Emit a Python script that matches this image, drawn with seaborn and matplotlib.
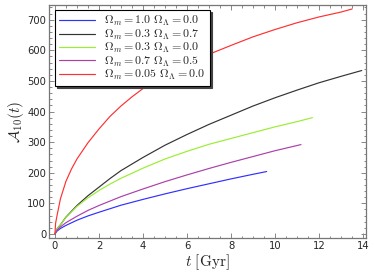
import matplotlib
matplotlib.use('Agg')
import matplotlib.pyplot as plt
import seaborn as sns
from matplotlib.ticker import MultipleLocator

# curves: t in Gyr, A_10(t)
t_blue = [0, 0.1, 0.25, 0.5, 1, 1.5, 2, 3, 4, 5, 6, 7, 8, 9, 9.62]
a_blue = [0, 10, 18, 28, 45, 59, 71, 94, 113, 131, 148, 164, 180, 195, 204]

t_black = [0, 0.1, 0.25, 0.5, 1, 1.5, 2, 2.5, 3, 4, 5, 6, 7, 8, 9, 10, 11, 12, 13, 13.94]
a_black = [0, 17, 30, 55, 93, 125, 153, 181, 207, 250, 290, 325, 358, 388, 418, 445, 470, 494, 515, 534]

t_green = [0, 0.1, 0.25, 0.5, 1, 1.5, 2, 2.5, 3, 4, 5, 6, 7, 8, 9, 10, 11, 11.7]
a_green = [0, 17, 30, 54, 90, 118, 142, 163, 182, 215, 245, 270, 293, 312, 331, 350, 367, 380]

t_purple = [0, 0.1, 0.25, 0.5, 1, 1.5, 2, 3, 4, 5, 6, 7, 8, 9, 10, 11, 11.18]
a_purple = [0, 13, 23, 37, 58, 77, 93, 122, 147, 171, 193, 214, 234, 253, 272, 289, 292]

t_red = [0, 0.03, 0.1, 0.25, 0.5, 0.75, 1, 1.5, 2, 2.5, 3, 3.5, 4, 5, 6, 7, 8, 9, 10, 11, 12, 13, 13.5]
a_red = [0, 35, 62, 115, 172, 212, 245, 298, 343, 384, 418, 448, 475, 519, 555, 587, 616, 644, 668, 690, 709, 725, 735]

labels = [r'$\Omega_m = 1.0\ \Omega_\Lambda = 0.0$',
          r'$\Omega_m = 0.3\ \Omega_\Lambda = 0.7$',
          r'$\Omega_m = 0.3\ \Omega_\Lambda = 0.0$',
          r'$\Omega_m = 0.7\ \Omega_\Lambda = 0.5$',
          r'$\Omega_m = 0.05\ \Omega_\Lambda = 0.0$']
colors = ['#3030ff', '#333333', '#99ee33', '#aa40aa', '#ff3030']

sns.set_style('ticks')
plt.rcParams['mathtext.fontset'] = 'cm'
plt.rcParams['font.family'] = ['DejaVu Sans']

fig, ax = plt.subplots(figsize=(3.74, 2.78), dpi=100)
fig.subplots_adjust(left=0.131, right=0.979, top=0.982, bottom=0.144)

series = [(t_blue, a_blue), (t_black, a_black), (t_green, a_green),
          (t_purple, a_purple), (t_red, a_red)]
for (tt, aa), lab, col in zip(series, labels, colors):
    sns.lineplot(x=tt, y=aa, ax=ax, color=col, linewidth=0.85, label=lab)

ax.set_xlim(-0.27, 14.14)
ax.set_ylim(-13, 748)
ax.xaxis.set_major_locator(MultipleLocator(2))
ax.xaxis.set_minor_locator(MultipleLocator(0.5))
ax.yaxis.set_major_locator(MultipleLocator(100))
ax.yaxis.set_minor_locator(MultipleLocator(20))
ax.tick_params(which='both', direction='in', top=True, right=True, color='#888888',
               labelsize=7.2, width=0.7, pad=2)
ax.tick_params(which='major', length=3.5)
ax.tick_params(which='minor', length=1.8)
for sp in ax.spines.values():
    sp.set_color('#777777')
    sp.set_linewidth(0.9)

ax.set_xlabel(r'$t\ \mathrm{[Gyr]}$', fontsize=11, labelpad=1)
ax.set_ylabel(r'$\mathcal{A}_{10}(t)$', fontsize=11, labelpad=1)

leg = ax.legend(loc='upper left', bbox_to_anchor=(0.018, 0.978), borderaxespad=0,
                fontsize=8.6, fancybox=False, edgecolor='black', framealpha=1,
                handlelength=3.0, handletextpad=0.8, labelspacing=-0.05,
                borderpad=0.35,
                shadow={'ox': 1.5, 'oy': -1.5, 'color': '#444444', 'alpha': 1})
leg.get_frame().set_linewidth(0.8)

fig.savefig('out.png', dpi=100)
